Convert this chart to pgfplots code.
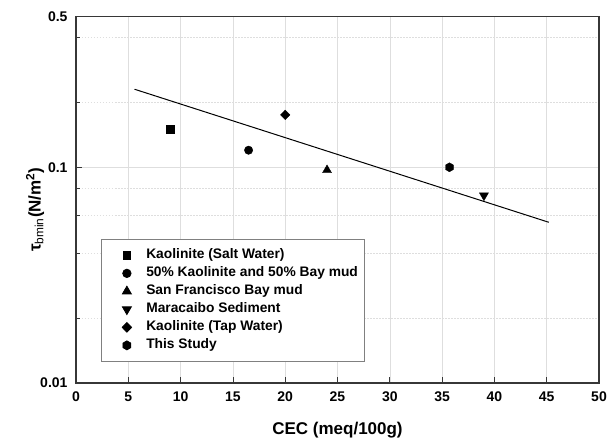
\documentclass[border=0pt]{standalone}
\usepackage{fontspec}
\setmainfont{Liberation Sans}
\usepackage{pgfplots}
\pgfplotsset{compat=1.18}

% filled hexagon, pointy top
\pgfdeclareplotmark{hexagon*}{%
  \pgfpathmoveto{\pgfpointpolar{90}{\pgfplotmarksize}}%
  \pgfpathlineto{\pgfpointpolar{150}{\pgfplotmarksize}}%
  \pgfpathlineto{\pgfpointpolar{210}{\pgfplotmarksize}}%
  \pgfpathlineto{\pgfpointpolar{270}{\pgfplotmarksize}}%
  \pgfpathlineto{\pgfpointpolar{330}{\pgfplotmarksize}}%
  \pgfpathlineto{\pgfpointpolar{30}{\pgfplotmarksize}}%
  \pgfpathclose
  \pgfusepathqfillstroke}

\definecolor{framegray}{RGB}{55,55,55}
\definecolor{gridgray}{RGB}{222,222,222}

\begin{document}
\begin{tikzpicture}
\begin{axis}[
    name=ax,
    scale only axis,
    width=523pt, height=366.5pt,
    ymode=log,
    xmin=0, xmax=50, ymin=0.01, ymax=0.5,
    xtick={0,5,...,50},
    ytick={0.01,0.1,0.5},
    yticklabels={0.01,0.1,0.5},
    minor ytick={0.02,0.04,0.06,0.08,0.2,0.4},
    xtick pos=bottom, ytick pos=left,
    tick align=inside,
    major tick length=6pt, minor tick length=4pt,
    tick style={framegray, line width=0.8pt},
    axis line style={framegray, line width=1.3pt},
    xmajorgrids, ymajorgrids, yminorgrids,
    major grid style={gridgray, line width=0.6pt},
    minor grid style={gridgray, line width=0.6pt, dash pattern=on 1.5pt off 1.5pt},
    /pgf/number format/assume math mode=true,
    tick label style={font=\fontsize{14}{16}\selectfont\bfseries},
    xticklabel style={yshift=-5pt},
    yticklabel style={xshift=-5pt},
    xlabel={CEC (meq/100g)},
    ylabel={τ\textsubscript{\mdseries bmin}(N/m\textsuperscript{2})},
    label style={font=\fontsize{17}{19}\selectfont\bfseries},
    xlabel style={at={(axis description cs:0.5,-0.128)}, anchor=center},
    ylabel style={at={(axis description cs:-0.078,0.473)}, anchor=center},
    mk/.style={only marks, black,
        legend image code/.code={\path (0pt,0pt) (38pt,0pt);
            \draw[##1] plot coordinates {(20.5pt,0pt)};}},
    legend cell align=left,
    legend style={at={(rel axis cs:0.047,0.393)}, anchor=north west,
        draw=gray, line width=0.8pt, fill=white,
        font=\fontsize{13.8}{15}\selectfont\bfseries,
        nodes={inner sep=1.5pt, text height=10pt, text depth=3pt},
        row sep=2pt, inner xsep=5pt, inner ysep=8pt},
]

% regression line
\addplot[black, line width=1pt, forget plot] coordinates {(5.6,0.23) (45.2,0.0556)};

\addplot[mk, mark=square*, mark size=3.6pt] coordinates {(9,0.15)};
\addplot[mk, mark=*, mark size=4.2pt] coordinates {(16.5,0.12)};
\addplot[mk, mark=triangle*, mark size=5.2pt] coordinates {(24,0.097)};
\addplot[mk, mark=triangle*, mark size=5.2pt, mark options={rotate=180}] coordinates {(39,0.074)};
\addplot[mk, mark=diamond*, mark size=4.8pt, mark options={xscale=1.3}] coordinates {(20,0.175)};
\addplot[mk, mark=hexagon*, mark size=4.5pt] coordinates {(35.7,0.1)};

\legend{Kaolinite (Salt Water), 50\% Kaolinite and 50\% Bay mud, San Francisco Bay mud, Maracaibo Sediment, Kaolinite (Tap Water), This Study}
\end{axis}
\pgfresetboundingbox
\path ([shift={(-76pt,-58pt)}]ax.south west) rectangle ([shift={(8pt,16.5pt)}]ax.north east);
\end{tikzpicture}
\end{document}
